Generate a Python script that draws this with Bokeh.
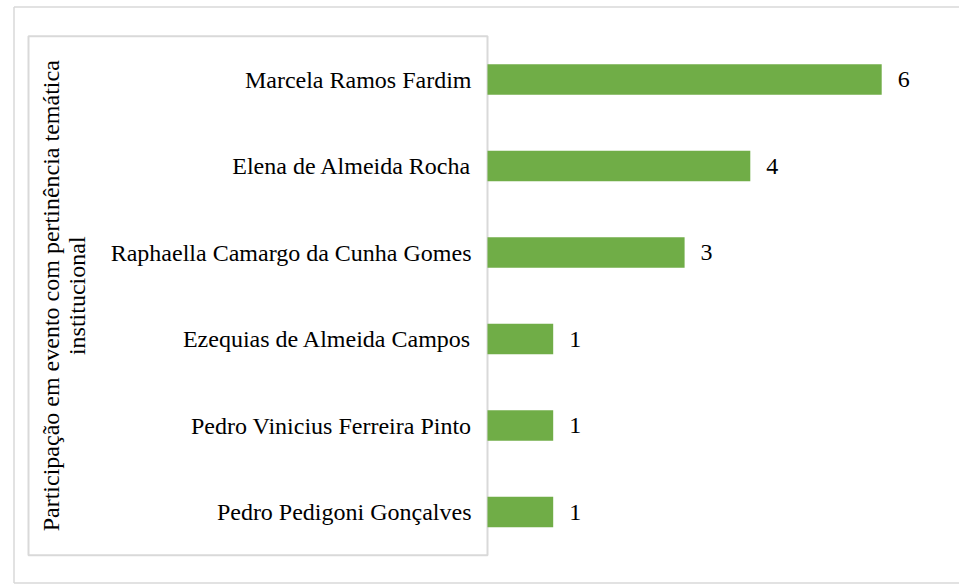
import math
from bokeh.plotting import figure
from bokeh.models import Range1d, ColumnDataSource
from bokeh.core.properties import value
from bokeh.embed import file_html
from bokeh.resources import INLINE

# ---- data ----
categories = [
    "Marcela Ramos Fardim",
    "Elena de Almeida Rocha",
    "Raphaella Camargo da Cunha Gomes",
    "Ezequias de Almeida Campos",
    "Pedro Vinicius Ferreira Pinto",
    "Pedro Pedigoni Gonçalves",
]
counts = [6, 4, 3, 1, 1, 1]
group_title = ["Participação em evento com pertinência temática", "institucional"]

# ---- layout constants ----
W, H = 959, 584
X0 = 487.0      # canvas x of value 0
PX = 65.7       # pixels per unit
Y0 = 79.0       # canvas y of first category
PY = 86.5       # pixels per category

FONT = value("Liberation Serif")
GRAY = "#d9d9d9"
GREEN = "#70ad47"

p = figure(width=W, height=H, output_backend="svg", toolbar_location=None,
           x_axis_location=None, y_axis_location=None,
           x_range=Range1d(-X0 / PX, (W - X0) / PX),
           y_range=Range1d((H - Y0) / PY, -Y0 / PY),
           min_border=0, outline_line_color=None)
p.xgrid.visible = False
p.ygrid.visible = False
p.background_fill_color = "white"
p.border_fill_color = "white"

def dx(cx):
    return (cx - X0) / PX

def dy(cy):
    return cy / PY - Y0 / PY

# outer border (left, top, bottom)
p.segment(x0=[dx(13.5), dx(13.5), dx(13.5)],
          y0=[dy(6.5), dy(6.5), dy(582.5)],
          x1=[dx(13.5), dx(W + 2), dx(W + 2)],
          y1=[dy(582.5), dy(6.5), dy(582.5)],
          line_color=GRAY, line_width=1.5)

idx = list(range(len(categories)))
src = ColumnDataSource(dict(y=idx, cat=categories, v=counts,
                            lbl=[str(c) for c in counts]))

# inner box around category labels
n = len(categories)
p.quad(left=[dx(28)], right=[0], top=[-0.5], bottom=[n - 0.5],
       fill_color=None, line_color=GRAY, line_width=2)

# bars
p.hbar(y="y", left=0, right="v", height=0.35, source=src,
       fill_color=GREEN, line_color=None)

# value labels
p.text(x="v", y="y", text="lbl", source=src, x_offset=16,
       text_align="left", text_baseline="middle",
       text_font=FONT, text_font_size="24px", text_color="black")

# category labels
p.text(x=0, y="y", text="cat", source=src, x_offset=-16,
       text_align="right", text_baseline="middle",
       text_font=FONT, text_font_size="24px", text_color="black")

# rotated group title (two lines)
mid = (n - 1) / 2
p.text(x=[dx(28), dx(28)], y=[mid, mid], text=group_title,
       x_offset=[22, 48], angle=math.pi / 2,
       text_align="center", text_baseline="alphabetic",
       text_font=FONT, text_font_size="24px", text_color="black")

open("out.html", "w").write(file_html(p, INLINE))
